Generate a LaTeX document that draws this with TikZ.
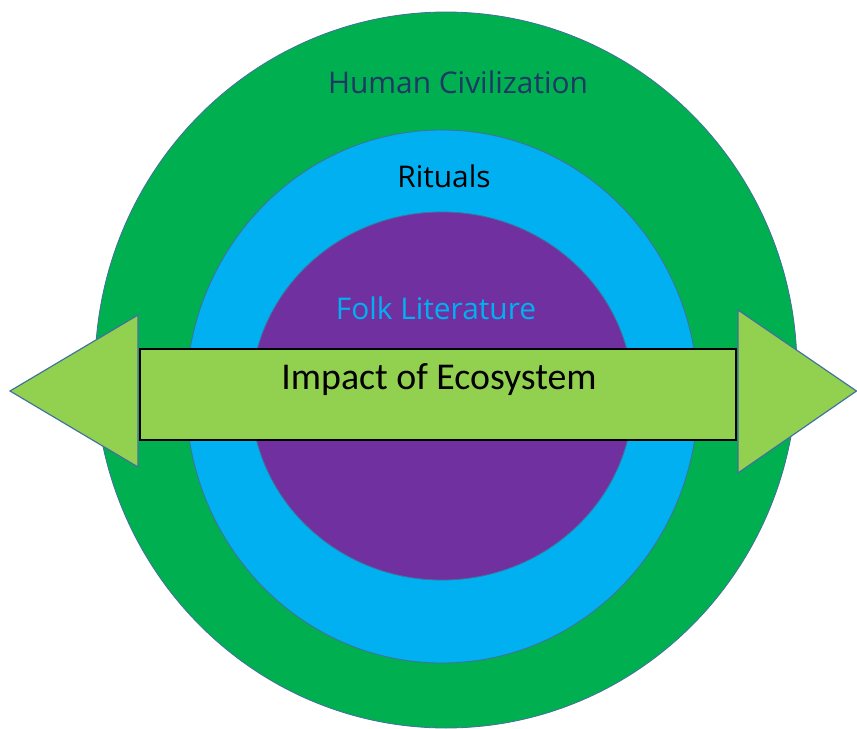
\documentclass[tikz,border=0pt]{standalone}
\usepackage{fontspec}
\setmainfont{Carlito}
\newfontfamily\ringfont{Open Sans}

\definecolor{civgreen}{HTML}{00B050}
\definecolor{ritblue}{HTML}{00B0F0}
\definecolor{folkpurple}{HTML}{7030A0}
\definecolor{ecogreen}{HTML}{92D050}
\definecolor{shapeline}{HTML}{41719C}
\definecolor{navytext}{HTML}{1F3864}

\tikzset{
    ring/.style={draw=shapeline, line width=0.7pt},
    band/.style={draw=black, line width=1.1pt, fill=ecogreen},
    arrowhead/.style={draw=shapeline, line width=1pt, fill=ecogreen, line join=miter},
    label/.style={font=\ringfont\fontsize{25.5}{30}\selectfont, anchor=base},
}

\begin{document}
\begin{tikzpicture}[x=0.03cm, y=-0.03cm]
    \useasboundingbox (0,0) rectangle (857,729);

    % nested circles, outside in
    \filldraw[fill=civgreen, ring] (446,370) ellipse (351 and 358);
    \filldraw[fill=ritblue, ring] (442,396.5) ellipse (256 and 266.5);
    \filldraw[fill=folkpurple, ring] (442,396) ellipse (191 and 184);

    % double arrow across the middle
    \filldraw[band] (140,349) rectangle (736,440);
    \filldraw[arrowhead] (138,315) -- (10,391) -- (138,467) -- cycle;
    \filldraw[arrowhead] (738,310) -- (856.5,391) -- (738,473) -- cycle;

    % labels
    \node[label, text=navytext] (civ) at (458,93) {Human Civilization};
    \node[label, text=black] (rit) at (444,187) {Rituals};
    \node[label, text=ritblue] (folk) at (436,319) {Folk Literature};
    \node[label, text=black, font=\fontsize{32.3}{38}\selectfont] (eco) at (439,389) {Impact of Ecosystem};
\end{tikzpicture}
\end{document}
